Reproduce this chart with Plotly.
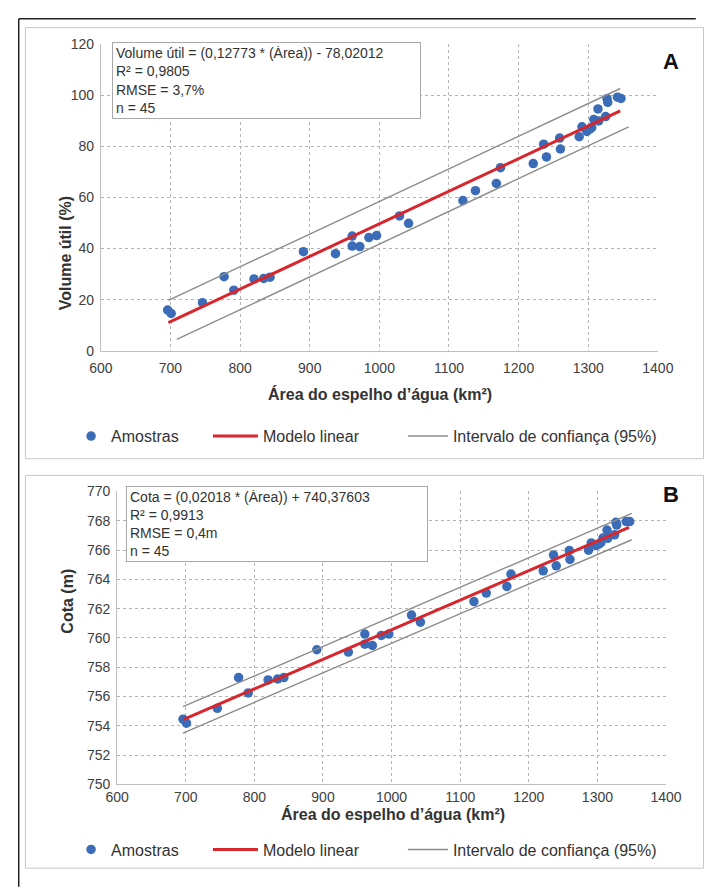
import plotly.graph_objects as go

# ---------------- data ----------------
area = [696, 701, 746, 777, 791, 820, 834, 843, 891, 937, 961, 961, 972, 985, 996,
        1029, 1042, 1120, 1138, 1168, 1174, 1221, 1236, 1240, 1259, 1260, 1287, 1291,
        1298, 1302, 1305, 1308, 1314, 1315, 1325, 1327, 1328, 1342, 1347]
volume = [15.9, 14.6, 18.8, 29.0, 23.7, 28.1, 28.3, 28.8, 38.8, 38.0, 41.0, 44.9, 40.8,
          44.3, 45.1, 52.8, 49.9, 58.8, 62.7, 65.5, 71.7, 73.3, 80.9, 75.9, 83.3, 79.0,
          83.8, 87.7, 85.9, 86.8, 87.4, 90.6, 94.7, 90.0, 91.7, 98.7, 97.3, 99.3, 98.8]
cota = [754.45, 754.18, 755.19, 757.29, 756.24, 757.13, 757.2, 757.29, 759.19, 759.03,
        759.57, 760.26, 759.48, 760.17, 760.26, 761.56, 761.07, 762.48, 763.06, 763.51,
        764.36, 764.58, 765.66, 764.92, 765.97, 765.36, 765.99, 766.48, 766.3, 766.4,
        766.5, 766.82, 767.36, 766.8, 767.04, 767.89, 767.7, 767.94, 767.94]

model_x = [697, 1346]
model_vol = [11.0, 93.9]
model_cota = [754.44, 767.54]

ci_vol_up_x = [697, 1346]
ci_vol_up_y = [19.7, 102.7]
ci_vol_lo_x = [709, 1358]
ci_vol_lo_y = [4.4, 87.7]

ci_cota_up_x = [696, 1350]
ci_cota_up_y = [755.3, 768.5]
ci_cota_lo_x = [696, 1350]
ci_cota_lo_y = [753.5, 766.7]

x_ticks = [600, 700, 800, 900, 1000, 1100, 1200, 1300, 1400]

W, H = 707, 888
FONT = "Liberation Sans"
BLUE = "#3B6CB7"
RED = "#D9262C"
GRAY = "#8c8c8c"
TXT = "#333333"


def px(x):
    return x / W


def py(y):
    return 1 - y / H


fig = go.Figure()

# ---- top panel ----
fig.add_trace(go.Scatter(x=area, y=volume, mode="markers", name="Amostras",
                         marker=dict(color=BLUE, size=9.5), xaxis="x", yaxis="y",
                         legend="legend"))
fig.add_trace(go.Scatter(x=model_x, y=model_vol, mode="lines", name="Modelo linear",
                         line=dict(color=RED, width=3), xaxis="x", yaxis="y",
                         legend="legend2"))
fig.add_trace(go.Scatter(x=ci_vol_up_x, y=ci_vol_up_y, mode="lines",
                         name="Intervalo de confiança (95%)",
                         line=dict(color=GRAY, width=1.4), xaxis="x", yaxis="y",
                         legend="legend3"))
fig.add_trace(go.Scatter(x=ci_vol_lo_x, y=ci_vol_lo_y, mode="lines", showlegend=False,
                         line=dict(color=GRAY, width=1.4), xaxis="x", yaxis="y"))

# ---- bottom panel ----
fig.add_trace(go.Scatter(x=area, y=cota, mode="markers", name="Amostras",
                         marker=dict(color=BLUE, size=9.5), xaxis="x2", yaxis="y2",
                         legend="legend4"))
fig.add_trace(go.Scatter(x=model_x, y=model_cota, mode="lines", name="Modelo linear",
                         line=dict(color=RED, width=3), xaxis="x2", yaxis="y2",
                         legend="legend5"))
fig.add_trace(go.Scatter(x=ci_cota_up_x, y=ci_cota_up_y, mode="lines",
                         name="Intervalo de confiança (95%)",
                         line=dict(color=GRAY, width=1.4), xaxis="x2", yaxis="y2",
                         legend="legend6"))
fig.add_trace(go.Scatter(x=ci_cota_lo_x, y=ci_cota_lo_y, mode="lines", showlegend=False,
                         line=dict(color=GRAY, width=1.4), xaxis="x2", yaxis="y2"))

axis_common = dict(showgrid=True, griddash="dot", gridcolor="#b5b5b5", gridwidth=1,
                   showline=True, linecolor="#bfbfbf", linewidth=1, zeroline=False,
                   ticks="", tickfont=dict(family=FONT, size=14, color="#404040"),
                   fixedrange=True)

leg_common = dict(orientation="h", font=dict(family=FONT, size=16, color=TXT),
                  bgcolor="rgba(0,0,0,0)", xanchor="left", yanchor="middle",
                  itemclick=False)

fig.update_layout(
    width=W, height=H,
    margin=dict(l=0, r=0, t=0, b=0),
    paper_bgcolor="white", plot_bgcolor="white",
    xaxis=dict(domain=[px(92.5), px(672.5)], range=[600, 1400], tickvals=x_ticks,
               anchor="y", ticklabelstandoff=4, **axis_common),
    yaxis=dict(domain=[py(349), py(37)], range=[0, 120], dtick=20, anchor="x",
               ticklabelstandoff=3, **axis_common),
    xaxis2=dict(domain=[px(109.5), px(681)], range=[600, 1400], tickvals=x_ticks,
                anchor="y2", ticklabelstandoff=0, **axis_common),
    yaxis2=dict(domain=[py(790.6), py(492.3)], range=[750, 770], dtick=2, anchor="x2",
                ticklabelstandoff=3, **axis_common),
    legend=dict(x=px(61.5), y=py(436), **leg_common),
    legend2=dict(x=px(204), y=py(436), itemwidth=45, **leg_common),
    legend3=dict(x=px(407), y=py(436), itemwidth=40, **leg_common),
    legend4=dict(x=px(61.5), y=py(857), **leg_common),
    legend5=dict(x=px(204), y=py(857), itemwidth=45, **leg_common),
    legend6=dict(x=px(407), y=py(857), itemwidth=40, **leg_common),
    shapes=[
        dict(type="line", xref="paper", yref="paper", x0=px(7), x1=px(712),
             y0=py(11), y1=py(11), line=dict(color="#222", width=1.5)),
        dict(type="line", xref="paper", yref="paper", x0=px(7), x1=px(7),
             y0=py(11), y1=py(895), line=dict(color="#222", width=1.5)),
        dict(type="rect", xref="paper", yref="paper", x0=px(14), x1=px(720),
             y0=py(20), y1=py(459), line=dict(color="#c8c8c8", width=1)),
        dict(type="rect", xref="paper", yref="paper", x0=px(14), x1=px(720),
             y0=py(476), y1=py(876), line=dict(color="#c8c8c8", width=1)),
    ],
    annotations=[
        dict(text="Volume útil = (0,12773 * (Área)) - 78,02012<br>R² = 0,9805<br>"
                  "RMSE = 3,7%<br>n = 45",
             xref="paper", yref="paper", x=px(104), y=py(35), xanchor="left",
             yanchor="top", align="left", showarrow=False, bgcolor="white",
             bordercolor="#a8a8a8", borderwidth=1, borderpad=3, width=301, height=69,
             font=dict(family=FONT, size=14, color=TXT)),
        dict(text="Cota = (0,02018 * (Área)) + 740,37603<br>R² = 0,9913<br>"
                  "RMSE = 0,4m<br>n = 45",
             xref="paper", yref="paper", x=px(119), y=py(487), xanchor="left",
             yanchor="top", align="left", showarrow=False, bgcolor="white",
             bordercolor="#a8a8a8", borderwidth=1, borderpad=3, width=294, height=68,
             font=dict(family=FONT, size=14, color=TXT)),
        dict(text="<b>A</b>", xref="paper", yref="paper", x=px(697), y=py(40),
             showarrow=False, font=dict(family=FONT, size=22, color="#111")),
        dict(text="<b>B</b>", xref="paper", yref="paper", x=px(697), y=py(495),
             showarrow=False, font=dict(family=FONT, size=22, color="#111")),
        dict(text="<b>Área do espelho d’água (km²)</b>", xref="paper", yref="paper",
             x=px(383), y=py(393), showarrow=False,
             font=dict(family=FONT, size=16, color=TXT)),
        dict(text="<b>Área do espelho d’água (km²)</b>", xref="paper", yref="paper",
             x=px(397), y=py(832), showarrow=False,
             font=dict(family=FONT, size=16, color=TXT)),
        dict(text="<b>Volume útil (%)</b>", xref="paper", yref="paper",
             x=px(45), y=py(190), showarrow=False, textangle=-90,
             font=dict(family=FONT, size=16, color=TXT)),
        dict(text="<b>Cota (m)</b>", xref="paper", yref="paper",
             x=px(47), y=py(639), showarrow=False, textangle=-90,
             font=dict(family=FONT, size=16, color=TXT)),
    ],
)

fig.write_html(
    "out.html",
    post_script="document.body.style.margin='0';document.body.style.overflow='hidden';",
    config={"displayModeBar": False},
)
